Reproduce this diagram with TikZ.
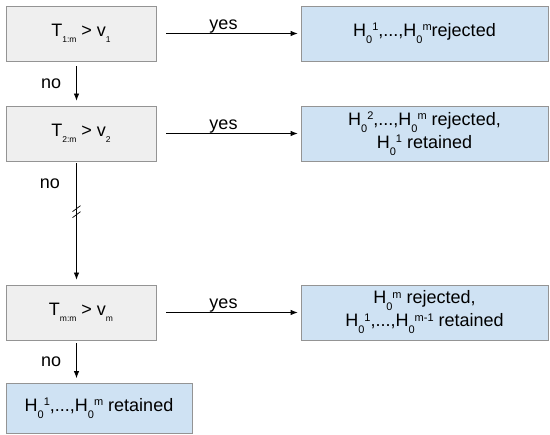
\documentclass[tikz,border=0pt]{standalone}
\usepackage{fontspec}
\setmainfont{Liberation Sans}
\usetikzlibrary{arrows.meta,calc}
\definecolor{grayfill}{HTML}{EFEFEF}
\definecolor{bluefill}{HTML}{CFE2F3}
\definecolor{boxborder}{HTML}{949494}
\newcommand\tsub[1]{\raisebox{-6pt}{\fontsize{8.5}{8.5}\selectfont #1}}
\newcommand\hsub[1]{\raisebox{-7pt}{\fontsize{11}{11}\selectfont #1}}
\newcommand\hsup[1]{\raisebox{5.5pt}{\fontsize{11}{11}\selectfont #1}}
\begin{document}
\begin{tikzpicture}[x=1pt,y=-1pt,
  every node/.style={font=\fontsize{18}{23}\selectfont},
  testbox/.style={draw=boxborder, fill=grayfill, line width=0.8pt, minimum width=150pt, minimum height=55pt, inner sep=0pt},
  resbox/.style={draw=boxborder, fill=bluefill, line width=0.8pt, minimum width=247pt, minimum height=55pt, inner sep=0pt, align=center},
  conn/.style={line width=0.8pt, -{Latex[length=7pt,width=5.5pt]}},
  lbl/.style={inner sep=1pt}
]
\useasboundingbox (0,0) rectangle (550,435);

\node[testbox] (g1) at (81,33.5) {T\tsub{1:m} > v\tsub{1}};
\node[testbox] (g2) at (81,133.5) {T\tsub{2:m} > v\tsub{2}};
\node[testbox] (g3) at (81,312.5) {T\tsub{m:m} > v\tsub{m}};

\node[resbox] (r1) at (424.5,33.5) {H\hsub{0}\hsup{1},...,H\hsub{0}\hsup{m}rejected};
\node[resbox] (r2) at (424.5,133.5) {H\hsub{0}\hsup{2},...,H\hsub{0}\hsup{m} rejected,\\H\hsub{0}\hsup{1} retained};
\node[resbox] (r3) at (424.5,312.5) {H\hsub{0}\hsup{m} rejected,\\H\hsub{0}\hsup{1},...,H\hsub{0}\hsup{m-1} retained};

\node[draw=boxborder, fill=bluefill, line width=0.8pt, minimum width=186pt, minimum height=50pt, inner sep=0pt] (r4) at (99,408.5) {H\hsub{0}\hsup{1},...,H\hsub{0}\hsup{m} retained};

% yes arrows
\draw[conn, shorten <=10pt, shorten >=3pt] (g1) -- node[lbl, above, xshift=-5pt, yshift=-1.5pt] {yes} (r1);
\draw[conn, shorten <=10pt, shorten >=3pt] (g2) -- node[lbl, above, xshift=-5pt, yshift=-1.5pt] {yes} (r2);
\draw[conn, shorten <=10pt, shorten >=3pt] (g3) -- node[lbl, above, xshift=-5pt, yshift=-1.5pt] {yes} (r3);

% no arrows
\draw[conn, shorten <=5pt, shorten >=5pt] ([xshift=-4.5pt]g1.south) -- node[lbl, left=14pt] {no} ([xshift=-4.5pt]g2.north);
\draw[conn, shorten <=2pt, shorten >=5pt] ([xshift=-4.5pt]g2.south) -- ([xshift=-4.5pt]g3.north);
\node[lbl] (no2) at (50,184) {no};
\draw[conn, shorten <=3pt, shorten >=5pt] ([xshift=-4.5pt]g3.south) -- node[lbl, left=14pt] {no} ([xshift=-4.5pt]g3.south |- r4.north);

% break mark
\coordinate (bk) at ($([xshift=-4.5pt]g2.south)!0.4!([xshift=-4.5pt]g3.north)$);
\draw[line width=0.7pt] ($(bk)+(-4,1)$) -- ($(bk)+(4,-5)$);
\draw[line width=0.7pt] ($(bk)+(-4,7)$) -- ($(bk)+(4,1)$);
\end{tikzpicture}
\end{document}
